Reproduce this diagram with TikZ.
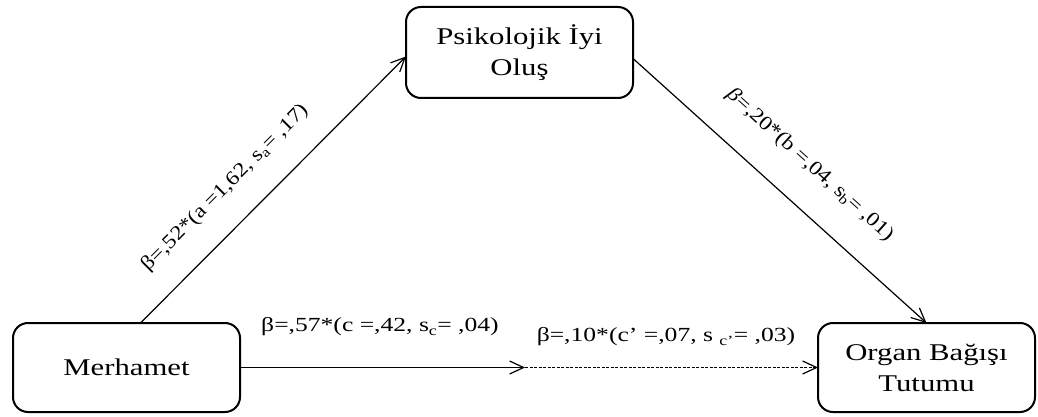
\documentclass[tikz,border=0pt]{standalone}
\usepackage{fontspec}
\setmainfont{Liberation Serif}[FakeStretch=1.28]
\newfontfamily\rotfont{Liberation Serif}[FakeStretch=1.16]
\usetikzlibrary{arrows.meta}
\begin{document}
\begin{tikzpicture}[x=1pt,y=-1pt,
  box/.style={draw, line width=2pt, rounded corners=15pt, inner sep=0pt, outer sep=0pt,
    align=center, font=\fontsize{24}{31}\selectfont},
  lab/.style={inner sep=0pt, font=\fontsize{20}{24}\selectfont},
  rlab/.style={inner sep=0pt, font=\rotfont\fontsize{20}{24}\selectfont},
  conn/.style={line width=1.2pt, -{Straight Barb[length=14pt,width=13pt,line width=1.2pt]}}]
\useasboundingbox (0,0) rectangle (1038,417);
\node[box, minimum width=227pt, minimum height=89pt] (M) at (126.5,367.5) {Merhamet};
\node[box, minimum width=227pt, minimum height=91pt] (P) at (519.5,52.5) {Psikolojik İyi\\Oluş};
\node[box, minimum width=217pt, minimum height=89pt] (O) at (926.5,367.5) {Organ Bağışı\\Tutumu};
\coordinate (mid) at (525,367.5);
\draw[conn] ([xshift=14pt]M.north) -- ([yshift=-4pt]P.west);
\draw[conn] ([yshift=-6pt]P.east) -- (O.north);
\draw[conn] (M.east) -- (mid);
\draw[conn, dash pattern=on 3pt off 1.5pt] (mid) -- (O.west);
\node[rlab, rotate=45] (la) at (225,188) {β=,52*(a =1,62, s\textsubscript{a}= ,17)};
\node[rlab, rotate=-42] (lb) at (810,165) {\textit{β}=,20*(b =,04, s\textsubscript{b}= ,01)};
\node[lab] (lc) at (380,327) {β=,57*(c =,42, s\textsubscript{c}= ,04)};
\node[lab] (ld) at (666,337) {β=,10*(c’ =,07, s \textsubscript{c’}= ,03)};
\end{tikzpicture}
\end{document}
